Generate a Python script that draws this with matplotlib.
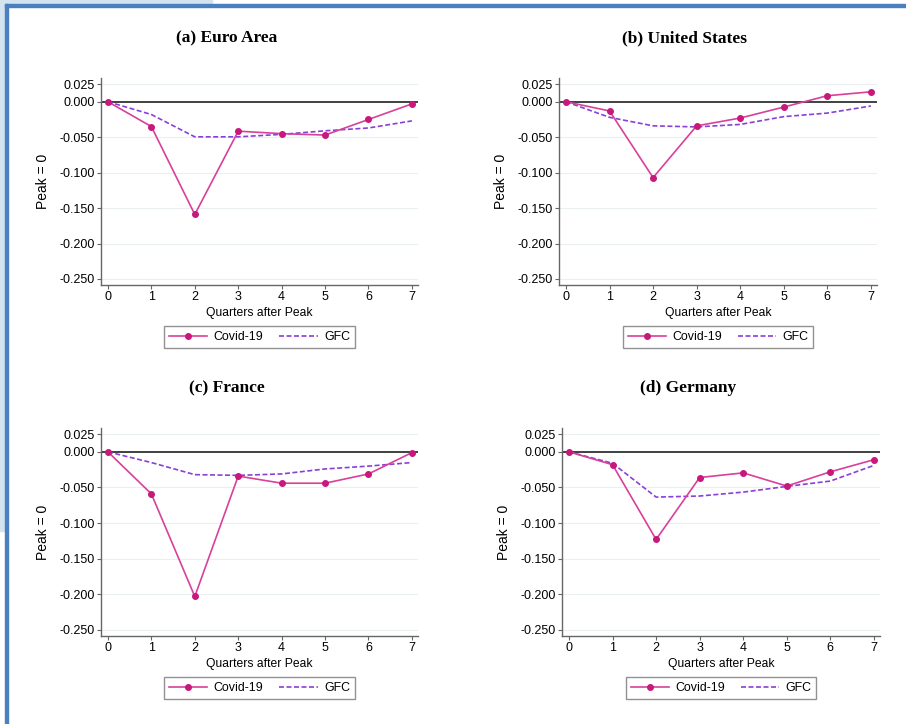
import numpy as np
import matplotlib
matplotlib.use("Agg")
import matplotlib.pyplot as plt
from matplotlib.patches import Rectangle

# quarters after the peak
quarters = [0, 1, 2, 3, 4, 5, 6, 7]

# values
ea_covid = [0.0, -0.035, -0.159, -0.0415, -0.045, -0.047, -0.025, -0.003]
ea_gfc = [0.0, -0.018, -0.0495, -0.0495, -0.046, -0.041, -0.037, -0.027]
us_covid = [0.0, -0.013, -0.107, -0.034, -0.023, -0.0075, 0.0085, 0.014]
us_gfc = [0.0, -0.022, -0.034, -0.0355, -0.032, -0.021, -0.016, -0.006]
fr_covid = [0.0, -0.059, -0.203, -0.034, -0.044, -0.044, -0.031, -0.001]
fr_gfc = [0.0, -0.015, -0.032, -0.033, -0.031, -0.024, -0.020, -0.015]
de_covid = [0.0, -0.018, -0.123, -0.036, -0.0295, -0.048, -0.028, -0.011]
de_gfc = [0.0, -0.016, -0.0635, -0.062, -0.0565, -0.0485, -0.041, -0.019]

titles = ["(a) Euro Area", "(b) United States", "(c) France", "(d) Germany"]
yticks = [0.025, 0.0, -0.05, -0.1, -0.15, -0.2, -0.25]
ytick_labels = ["0.025", "0.000", "-0.050", "-0.100", "-0.150", "-0.200", "-0.250"]

W, H = 906, 724
fig = plt.figure(figsize=(W / 100, H / 100), dpi=100)
plt.rcParams['font.family'] = ['Liberation Sans', 'DejaVu Sans']

# screenshot frame
fig.patches.append(Rectangle((0, 1 - 4 / H), 212 / W, 4 / H, transform=fig.transFigure,
                             color='#d3e3f0', zorder=0))
fig.patches.append(Rectangle((0, 1 - 531 / H), 5 / W, 531 / H, transform=fig.transFigure,
                             color='#d3e3f0', zorder=0))
fig.patches.append(Rectangle((5 / W, 1 - 7 / H), 1 - 5 / W, 3 / H, transform=fig.transFigure,
                             color='#4a80c0', zorder=0))
fig.patches.append(Rectangle((5 / W, 0), 3 / W, 1 - 4 / H, transform=fig.transFigure,
                             color='#4a80c0', zorder=0))

# pixel boxes: left, right, top, bottom
boxes = [(101, 418, 78, 285), (559, 877, 78, 285),
         (101, 418, 428, 636), (562, 880, 428, 636)]
series = [(ea_covid, ea_gfc), (us_covid, us_gfc), (fr_covid, fr_gfc), (de_covid, de_gfc)]

covid_col = '#d8409a'
marker_col = '#c8187c'
gfc_col = '#8a3fd8'

for (l, r, t, b), (cov, gfc), title in zip(boxes, series, titles):
    ax = fig.add_axes([l / W, 1 - b / H, (r - l) / W, (b - t) / H])
    ax.set_xlim(-0.16, 7.14)
    ax.set_ylim(-0.2585, 0.0335)
    ax.set_yticks(yticks)
    ax.set_yticklabels(ytick_labels)
    ax.set_xticks(quarters)
    for y in yticks:
        ax.axhline(y, color='#eaf0f2', lw=0.8, zorder=0)
    ax.axhline(0, color='#333333', lw=1.3, zorder=1)
    ax.plot(quarters, cov, color=covid_col, lw=1.2, marker='o', ms=4,
            mfc=marker_col, mec=marker_col, label='Covid-19', zorder=3)
    ax.plot(quarters, gfc, color=gfc_col, lw=1.2, ls=(0, (3, 1.5)), label='GFC', zorder=2)
    for s in ['top', 'right']:
        ax.spines[s].set_visible(False)
    for s in ['left', 'bottom']:
        ax.spines[s].set_color('#666666')
        ax.spines[s].set_linewidth(1.0)
    ax.tick_params(labelsize=9, length=3, color='#666666', pad=1.5)
    ax.set_xlabel('Quarters after Peak', fontsize=8.7, labelpad=3)
    ax.set_ylabel('Peak = 0', fontsize=10, labelpad=6.5)
    cx = (l + r) / 2
    fig.text((cx - 33) / W, 1 - (t - 40) / H, title, ha='center', va='center',
             fontsize=12.5, fontweight='bold', family='Liberation Serif')
    leg = ax.legend(loc='center', bbox_to_anchor=(cx / W, 1 - (b + 52) / H),
                    bbox_transform=fig.transFigure, ncol=2, fontsize=8.9,
                    frameon=True, fancybox=False, handlelength=3.1,
                    columnspacing=1.3, borderpad=0.4, borderaxespad=0,
                    handletextpad=0.5)
    leg.get_frame().set_edgecolor('#777777')
    leg.get_frame().set_linewidth(1.0)

fig.savefig('out.png', dpi=100)
